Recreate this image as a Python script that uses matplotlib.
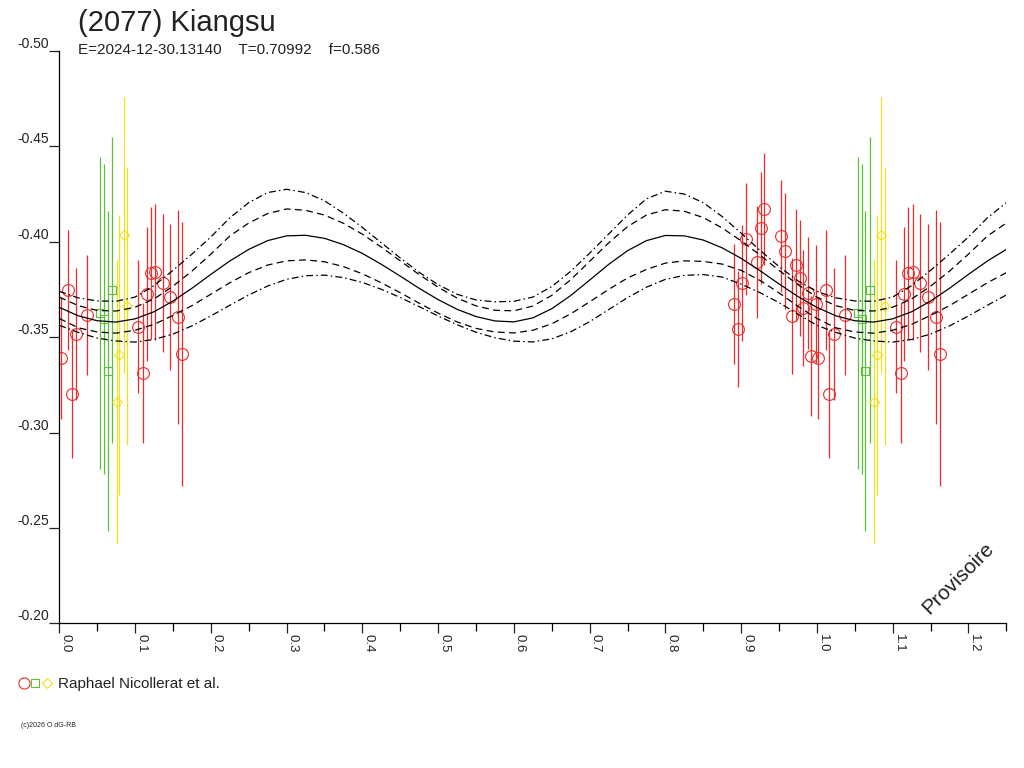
import numpy as np
import matplotlib.pyplot as plt
from matplotlib.ticker import MultipleLocator, FormatStrFormatter

plt.rcParams['font.family'] = ['Liberation Sans', 'DejaVu Sans']

# Fit-Kurven, Phase 0..1 in Schritten von 0.025
phase_grid = np.linspace(0.0, 1.0, 41)
fit_mid = [-0.3656, -0.3612, -0.3586, -0.3579, -0.3596, -0.3633, -0.3689, -0.3756, -0.3829, -0.3899,
           -0.3960, -0.4006, -0.4031, -0.4034, -0.4018, -0.3985, -0.3939, -0.3882, -0.3820, -0.3756,
           -0.3697, -0.3646, -0.3608, -0.3585, -0.3580, -0.3601, -0.3649, -0.3718, -0.3799, -0.3881,
           -0.3953, -0.4006, -0.4033, -0.4031, -0.4009, -0.3968, -0.3913, -0.3848, -0.3779, -0.3713, -0.3656]
fit_dash_up = [-0.3710, -0.3665, -0.3640, -0.3637, -0.3657, -0.3700, -0.3767, -0.3846, -0.3935, -0.4030,
               -0.4098, -0.4148, -0.4172, -0.4165, -0.4140, -0.4097, -0.4040, -0.3972, -0.3900, -0.3828,
               -0.3762, -0.3705, -0.3664, -0.3641, -0.3638, -0.3663, -0.3719, -0.3801, -0.3897, -0.3994,
               -0.4079, -0.4140, -0.4168, -0.4160, -0.4127, -0.4072, -0.4005, -0.3930, -0.3850, -0.3775, -0.3710]
fit_dash_lo = [-0.3598, -0.3549, -0.3527, -0.3521, -0.3536, -0.3567, -0.3614, -0.3665, -0.3725, -0.3785,
               -0.3838, -0.3878, -0.3900, -0.3905, -0.3895, -0.3870, -0.3832, -0.3785, -0.3733, -0.3678,
               -0.3626, -0.3580, -0.3546, -0.3527, -0.3522, -0.3536, -0.3570, -0.3622, -0.3685, -0.3750,
               -0.3810, -0.3855, -0.3888, -0.3900, -0.3897, -0.3883, -0.3850, -0.3797, -0.3732, -0.3662, -0.3598]
fit_dd_up = [-0.3740, -0.3706, -0.3690, -0.3688, -0.3710, -0.3770, -0.3850, -0.3935, -0.4025, -0.4125,
             -0.4205, -0.4258, -0.4275, -0.4258, -0.4215, -0.4150, -0.4075, -0.3995, -0.3915, -0.3840,
             -0.3775, -0.3725, -0.3695, -0.3685, -0.3688, -0.3710, -0.3765, -0.3845, -0.3940, -0.4040,
             -0.4140, -0.4225, -0.4265, -0.4250, -0.4205, -0.4132, -0.4045, -0.3955, -0.3870, -0.3795, -0.3740]
fit_dd_lo = [-0.3562, -0.3525, -0.3495, -0.3480, -0.3474, -0.3488, -0.3516, -0.3559, -0.3611, -0.3667,
             -0.3721, -0.3768, -0.3803, -0.3822, -0.3825, -0.3812, -0.3787, -0.3751, -0.3708, -0.3660,
             -0.3611, -0.3565, -0.3526, -0.3497, -0.3479, -0.3475, -0.3491, -0.3528, -0.3581, -0.3644,
             -0.3707, -0.3762, -0.3803, -0.3824, -0.3828, -0.3815, -0.3778, -0.3733, -0.3681, -0.3620, -0.3562]

# Messpunkte (rot: Kreise, gruen: Quadrate, gelb: Rauten)
red_phase = [0.0018, 0.0119, 0.0164, 0.0221, 0.0370, 0.1044, 0.1110, 0.1155, 0.1207, 0.1264,
             0.1366, 0.1466, 0.1572, 0.1625, 0.8904, 0.8956, 0.9005, 0.9058, 0.9204, 0.9256,
             0.9300, 0.9521, 0.9573, 0.9675, 0.9719, 0.9771, 0.9815, 0.9881, 0.9926, 0.9992]
red_mag = [-0.3389, -0.3747, -0.3200, -0.3517, -0.3616, -0.3555, -0.3314, -0.3726, -0.3836, -0.3843,
           -0.3785, -0.3712, -0.3604, -0.3412, -0.3674, -0.3541, -0.3784, -0.4015, -0.3896, -0.4072,
           -0.4172, -0.4030, -0.3952, -0.3611, -0.3878, -0.3810, -0.3651, -0.3731, -0.3401, -0.3672]
red_err = [0.0320, 0.0315, 0.0335, 0.0346, 0.0315, 0.0350, 0.0367, 0.0351, 0.0346, 0.0356,
           0.0362, 0.0383, 0.0561, 0.0692, 0.0315, 0.0304, 0.0304, 0.0294, 0.0294, 0.0294,
           0.0294, 0.0294, 0.0304, 0.0304, 0.0294, 0.0304, 0.0304, 0.0294, 0.0315, 0.0309]
green_phase = [0.0542, 0.0594, 0.0639, 0.0700]
green_mag = [-0.3627, -0.3595, -0.3323, -0.3747]
green_err = [0.0818, 0.0812, 0.0839, 0.0802]
yellow_phase = [0.0756, 0.0793, 0.0848, 0.0898]
yellow_mag = [-0.3162, -0.3406, -0.4035, -0.3663]
yellow_err = [0.0743, 0.0734, 0.0723, 0.0729]

red = '#ee2b2b'
green = '#5cbf3a'
yellow = '#f2e01c'

fig = plt.figure(figsize=(10.24, 7.68), dpi=100)
ax = fig.add_axes([59.3 / 1024, 1 - 623.3 / 768, 947 / 1024, 572.3 / 768])

# Kurven zweimal zeichnen (Phase und Phase+1)
xx = np.concatenate([phase_grid, phase_grid[1:] + 1])
def twice(v):
    v = np.asarray(v)
    return np.concatenate([v, v[1:]])

ax.plot(xx, twice(fit_mid), color='black', lw=0.9, zorder=3)
for curve in (fit_dash_up, fit_dash_lo):
    ax.plot(xx, twice(curve), color='black', lw=0.9, ls=(0, (5.5, 3.5)), zorder=3)
for curve in (fit_dd_up, fit_dd_lo):
    ax.plot(xx, twice(curve), color='black', lw=0.9, ls=(0, (5.5, 2.5, 1.2, 2.5)), zorder=3)

def plot_points(ph, mag, err, color, marker, ms):
    ph = np.asarray(ph)
    mag = np.asarray(mag)
    err = np.asarray(err)
    for shift in (0, 1):
        p = ph + shift
        keep = (p >= 0) & (p <= 1.25)
        ax.errorbar(p[keep], mag[keep], yerr=err[keep], fmt=marker, ms=ms, mfc='none',
                    mec=color, mew=0.8, ecolor=color, elinewidth=0.9, capsize=0, zorder=2)

plot_points(red_phase, red_mag, red_err, red, 'o', 8.5)
plot_points(green_phase, green_mag, green_err, green, 's', 5.5)
plot_points(yellow_phase, yellow_mag, yellow_err, yellow, 'D', 5)

ax.set_xlim(0, 1.25)
ax.set_ylim(-0.20, -0.50)
for side in ('top', 'right'):
    ax.spines[side].set_visible(False)
ax.spines['left'].set_linewidth(0.9)
ax.spines['bottom'].set_linewidth(0.9)

ax.xaxis.set_major_locator(MultipleLocator(0.1))
ax.xaxis.set_minor_locator(MultipleLocator(0.05))
ax.xaxis.set_major_formatter(FormatStrFormatter('%.1f'))
ax.yaxis.set_major_locator(MultipleLocator(0.05))
ax.yaxis.set_major_formatter(FormatStrFormatter('%.2f'))
ax.tick_params(axis='x', which='major', length=7.2, width=0.9, pad=0.5, labelsize=9.5,
               labelrotation=270, colors='#222222')
ax.tick_params(axis='x', which='minor', length=6, width=0.9)
ax.tick_params(axis='y', which='major', length=7, width=0.9, pad=0.5, labelsize=10,
               colors='#222222')
for lbl in ax.get_xticklabels():
    lbl.set_ha('left')
    lbl.set_va('top')
for lbl in ax.get_yticklabels():
    lbl.set_va('bottom')

fig.text(78 / 1024, 1 - 31 / 768, '(2077) Kiangsu', fontsize=21, color='#222222', va='baseline')
fig.text(78 / 1024, 1 - 54 / 768, 'E=2024-12-30.13140    T=0.70992    f=0.586',
         fontsize=11, color='#222222', va='baseline')

ax.text(0.949, 0.079, 'Provisoire', transform=ax.transAxes, rotation=45, fontsize=15,
        ha='center', va='center', color='#222222')

# Legende unten links (Pixelkoordinaten)
lg = fig.add_axes([0, 0, 1, 1], zorder=-1)
lg.set_xlim(0, 1024)
lg.set_ylim(768, 0)
lg.axis('off')
lg.plot([24], [683], 'o', ms=8, mfc='none', mec=red, mew=0.8)
lg.plot([35], [683], 's', ms=6, mfc='none', mec=green, mew=0.8)
lg.plot([47], [683], 'D', ms=5.5, mfc='none', mec=yellow, mew=0.8)
lg.text(58, 688, 'Raphael Nicollerat et al.', fontsize=11, color='#222222', va='baseline')
lg.text(21, 727, '(c)2026 O dG-RB', fontsize=5, color='#222222', va='baseline')

fig.savefig('out.png', dpi=100)
